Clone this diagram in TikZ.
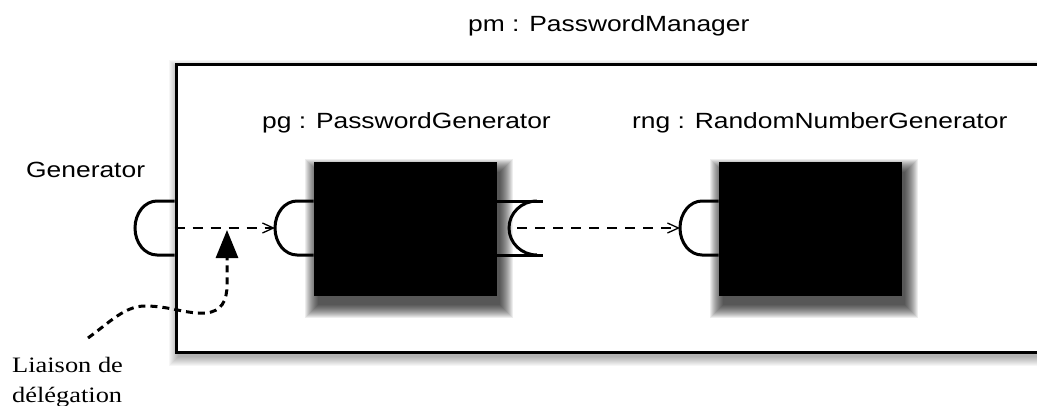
\documentclass[tikz,border=0pt]{standalone}
\usepackage{fontspec}
\setmainfont{Liberation Serif}
\setsansfont{Liberation Sans}
\usetikzlibrary{arrows.meta}
\newcommand{\softshadow}[7]{% x1 y1 x2 y2 dx dy steps/opacity handled below
  \foreach \i in {1,...,#6}{
    \fill[black, opacity=#7] ({#1+#5-#6+\i},{#2+#5*2.5-#6+\i}) rectangle ({#3+#5+#6-\i},{#4+#5*2.5+#6-\i});
  }}
\begin{document}
\begin{tikzpicture}[x=1pt,y=-1pt,
  lbl/.style={font=\sffamily\fontsize{22}{26}\selectfont, inner sep=0pt, anchor=base west},
  comp/.style={draw=black, fill=black, line width=1pt, minimum width=182pt, minimum height=133pt, inner sep=0pt},
  outerbox/.style={draw=black, fill=white, line width=3pt, inner sep=0pt},
  port/.style={line width=3pt},
  link/.style={line width=1.3pt, dash pattern=on 10pt off 8pt, -{Straight Barb[length=11pt,width=10pt]}},
  deleg/.style={line width=3pt, dash pattern=on 7pt off 5pt, -{Triangle[length=28pt,width=22pt]}}
]
\useasboundingbox (0,0) rectangle (1037,405);
\clip (0,0) rectangle (1037,405);

% outer component (with soft shadow)
\softshadow{176}{64}{1056}{352}{2}{10}{0.035}
\node[outerbox, minimum width=880pt, minimum height=288pt] (pm) at (616,208) {};

% inner components (with soft shadows)
\softshadow{314}{162}{496}{295}{4}{14}{0.07}
\softshadow{719}{162}{901}{295}{4}{14}{0.07}
\node[comp] (pg) at (405,228.5) {};
\node[comp] (rng) at (810,228.5) {};

% ports
\draw[port] (pm.west |- 0,201) -- (157,201) arc[start angle=270, end angle=90, x radius=22, y radius=27] -- (pm.west |- 0,255);
\draw[port] (pg.west |- 0,201) -- (297,201) arc[start angle=270, end angle=90, x radius=22, y radius=27] -- (pg.west |- 0,255);
\draw[port] (rng.west |- 0,201) -- (702,201) arc[start angle=270, end angle=90, x radius=22, y radius=27] -- (rng.west |- 0,255);
\draw[port] (pg.east |- 0,201) -- (543,201);
\draw[port] (pg.east |- 0,255) -- (543,255);
\draw[port] (537,201) arc[start angle=270, end angle=90, x radius=28, y radius=27];

% connector end points
\coordinate (pgp) at (275,228);
\coordinate (sockin) at (517,228);
\coordinate (rngp) at (680,228);
\coordinate (dstart) at (88,338);
\coordinate (dtip) at (227,230);

\draw[link] (pm.west |- pgp) -- (pgp);
\draw[link] (sockin) -- (rngp);

\draw[deleg] (dstart) .. controls (110,322) and (125,306) .. (145,306)
  .. controls (170,306) and (185,314) .. (205,313)
  .. controls (222,312) and (227,300) .. (227,285) -- (dtip);

% labels
\node[lbl] (pmlabel) at (468,31) {\scalebox{1.2}[1]{pm : PasswordManager}};
\node[lbl] (pglabel) at (262,128) {\scalebox{1.2}[1]{pg : PasswordGenerator}};
\node[lbl] (rnglabel) at (632,128) {\scalebox{1.2}[1]{rng : RandomNumberGenerator}};
\node[lbl] (genlabel) at (26,177) {\scalebox{1.2}[1]{Generator}};
\node[font=\fontsize{22}{30}\selectfont, inner sep=0pt, anchor=base west] (deleglabel) at (12,372)
  {\scalebox{1.2}[1]{\begin{tabular}[t]{@{}l@{}}Liaison de\\délégation\end{tabular}}};
\end{tikzpicture}
\end{document}
